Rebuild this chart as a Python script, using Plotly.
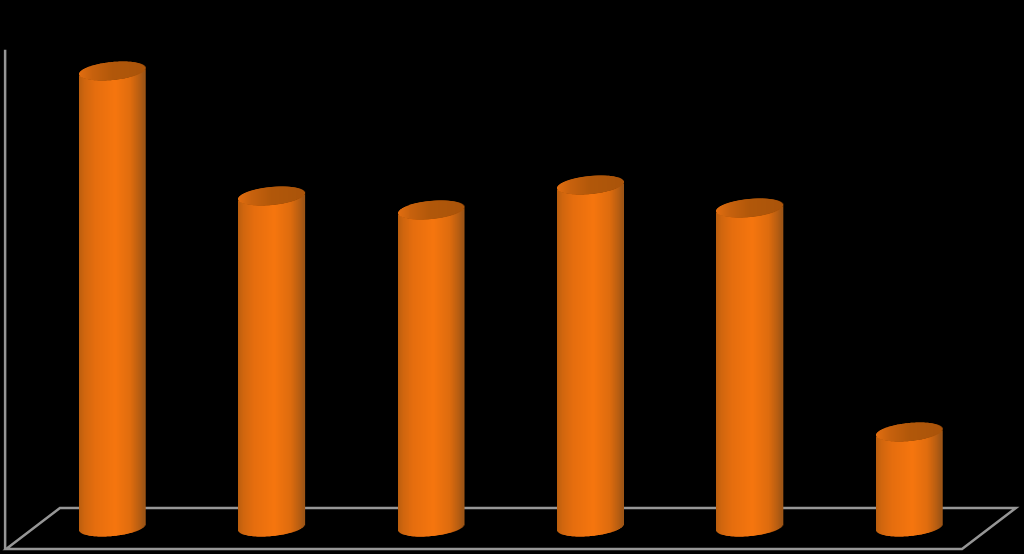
import numpy as np
import plotly.graph_objects as go

# cylinder heights, 1 unit = 1 px of the picture
categories = [0, 1, 2, 3, 4, 5]
values = [456, 331, 317, 342, 319, 95]

bar_w = 0.412  # in category units
cap_b = 9.0    # ellipse half height
rise = 3.0     # right side of the ellipse sits higher by this much

# shading across a cylinder, left edge to right edge
body_pos = [0, 0.08, 0.25, 0.55, 0.8, 0.93, 1]
body_rgb = [(186, 94, 14), (208, 102, 14), (230, 110, 14), (246, 118, 14), (222, 108, 14), (184, 94, 18), (156, 84, 22)]
cap_pos = [0, 0.2, 0.5, 1]
cap_rgb = [(226, 110, 16), (200, 98, 14), (178, 88, 10), (170, 84, 10)]


def shade(pos, stops, rgb):
    return "rgb(%d,%d,%d)" % tuple(np.interp(pos, stops, [c[i] for c in rgb]) for i in range(3))


xs, bases, heights, widths, colors = [], [], [], [], []
n = 66
for cat, val in zip(categories, values):
    for i in range(n):
        t = (i + 0.5) / n
        dx = 2 * t - 1
        half = cap_b * np.sqrt(1 - dx ** 2)
        xs.append(cat + (t - 0.5) * bar_w)
        bases.append(rise * dx - half)
        heights.append(val)
        widths.append(bar_w / n * 1.8)
        colors.append(shade(t, body_pos, body_rgb))
    for i in range(n):
        t = (i + 0.5) / n
        dx = 2 * t - 1
        half = cap_b * np.sqrt(1 - dx ** 2)
        xs.append(cat + (t - 0.5) * bar_w)
        bases.append(val + rise * dx - half)
        heights.append(2 * half)
        widths.append(bar_w / n * 1.8)
        colors.append(shade(t, cap_pos, cap_rgb))

fig = go.Figure(go.Bar(x=xs, y=heights, base=bases, width=widths,
                       marker=dict(color=colors, line=dict(width=0)), hoverinfo="skip"))

grey = "#969696"
floor = "M 0.0585 0.083 L 0.992 0.083 L 0.9395 0.009 L 0.006 0.009 Z"
fig.add_shape(type="path", path=floor, xref="paper", yref="paper", layer="below",
              line=dict(color=grey, width=2.5))
fig.add_shape(type="line", x0=0.005, x1=0.005, y0=0.009, y1=0.91, xref="paper", yref="paper",
              layer="below", line=dict(color=grey, width=2.5))

fig.update_layout(width=1024, height=554, margin=dict(l=0, r=0, t=0, b=0),
                  paper_bgcolor="black", plot_bgcolor="black", showlegend=False, barmode="overlay")
fig.update_xaxes(visible=False, range=[-0.7057, 5.7184])
fig.update_yaxes(visible=False, range=[-27, 527])
fig.write_html("out.html", config=dict(displayModeBar=False),
               post_script="document.body.style.margin='0';document.body.style.background='black';")
